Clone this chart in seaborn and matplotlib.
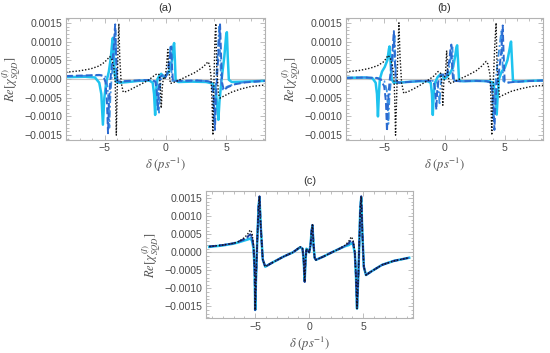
import matplotlib
matplotlib.use("Agg")
import matplotlib.pyplot as plt
from matplotlib.ticker import MultipleLocator, FuncFormatter
import seaborn as sns
import pandas as pd

# ---------------- data: panel (a) ----------------
a_x_dot = [-8.17, -7.02, -6.15, -5.44, -5.0, -4.74, -4.59, -4.43, -4.26, -4.14, -4.08, -4.04, -3.97, -3.9, -3.83,
           -3.76, -3.64, -3.47, -3.16, -2.63, -2.02, -1.4, -0.97, -0.7, -0.53, -0.44, -0.35, -0.26, -0.16, -0.04,
           0.07, 0.19, 0.28, 0.4, 0.61, 1.05, 1.76, 2.46, 2.99, 3.34, 3.47, 3.6, 3.73, 3.82, 3.89, 3.97, 4.06, 4.13,
           4.21, 4.35, 4.48, 4.83, 5.44, 6.15, 7.02, 8.17]
a_y_dot = [0.00018, 0.00022, 0.00027, 0.00035, 0.00045, 0.00054, 0.0006, 0.00055, 0.00035, 0.0, -0.0007, -0.0015,
           -0.0004, 0.0008, 0.00148, 0.0006, -0.0001, -0.00035, -0.00033, -0.00024, -0.00014, -0.00003, 0.00008,
           0.00014, 0.00012, -0.0001, -0.00078, -0.0002, 0.00005, 0.00002, 0.0003, 0.00079, 0.0002, -0.00012,
           -0.0001, -0.00004, 0.00007, 0.00018, 0.0003, 0.0004, 0.00046, 0.0004, 0.0001, -0.0006, -0.0015, -0.0002,
           0.0011, 0.00148, 0.0003, -0.0004, -0.00051, -0.00045, -0.00035, -0.00027, -0.0002, -0.00016]
a_x_b1 = [-8.17, -6.15, -5.44, -5.09, -4.92, -4.81, -4.72, -4.64, -4.52, -4.39, -4.26, -4.17, -4.13, -4.06, -3.97,
          -3.78, -3.07, -1.76, -1.05, -0.83, -0.72, -0.63, -0.54, -0.44, -0.26, -0.09, 0.09, 0.26, 0.4, 0.48, 0.54,
          0.61, 1.32, 2.63, 3.51, 3.82, 3.95, 4.06, 4.14, 4.26, 4.37, 4.48, 4.57, 4.65, 4.79, 5.09, 5.71, 6.59, 8.17]
a_y_b1 = [0.00008, 0.0001, 0.00011, 0.00008, -0.0001, -0.0006, -0.00145, -0.0006, 0.0, 0.0004, 0.0008, 0.0013,
          0.00146, 0.0006, -0.00005, -0.00007, -0.00005, -0.00003, -0.00003, -0.00008, -0.0003, -0.00082, -0.0002,
          0.00005, 0.0001, 0.00003, 0.0001, 0.0003, 0.0007, 0.00087, 0.0003, -0.00005, -0.00005, -0.00004,
          -0.00006, -0.0001, -0.0004, -0.00136, -0.0005, 0.0002, 0.0008, 0.00146, 0.0006, -0.0001, -0.0003,
          -0.00022, -0.00014, -0.00009, -0.00005]
a_x_b2 = [-8.17, -6.15, -5.27, -4.92, -4.76, -4.68, -4.61, -4.53, -4.41, -4.28, -4.17, -4.11, -4.07, -4.0, -3.91,
          -3.69, -2.63, -1.32, -0.79, -0.63, -0.53, -0.44, -0.33, -0.18, 0.0, 0.18, 0.33, 0.42, 0.48, 0.54, 1.32,
          2.63, 3.51, 3.78, 3.91, 4.0, 4.08, 4.2, 4.32, 4.41, 4.48, 4.57, 4.7, 5.09, 5.71, 6.59, 8.17]
a_y_b2 = [0.00007, 0.00009, 0.0001, 0.00006, -0.0002, -0.0006, -0.0013, -0.0005, 0.0001, 0.0005, 0.001, 0.0013,
          0.0009, 0.0001, -0.00006, -0.00007, -0.00005, -0.00003, -0.00006, -0.0002, -0.0009, -0.0002, 0.00006,
          0.0001, 0.00004, 0.0002, 0.0006, 0.0009, 0.0003, -0.00005, -0.00005, -0.00004, -0.00006, -0.0001,
          -0.0004, -0.0012, -0.0005, 0.0002, 0.0009, 0.0014, 0.0007, -0.0001, -0.00028, -0.0002, -0.00013,
          -0.00008, -0.00005]
a_x_c = [-8.17, -6.59, -5.79, -5.44, -5.27, -5.14, -5.02, -4.87, -4.65, -4.48, -4.37, -4.32, -4.26, -4.17, -4.04,
         -3.78, -3.07, -2.2, -1.32, -1.05, -0.94, -0.85, -0.77, -0.66, -0.48, -0.35, -0.22, -0.09, 0.09, 0.31, 0.53,
         0.66, 0.71, 0.77, 0.83, 1.05, 2.2, 3.34, 3.86, 4.13, 4.26, 4.34, 4.43, 4.61, 4.83, 4.99, 5.04, 5.11, 5.2,
         5.44, 6.59, 8.17]
a_y_c = [0.00005, 0.00006, 0.00004, -0.0001, -0.0004, -0.00122, -0.0005, -0.0001, 0.0002, 0.0006, 0.001, 0.0011,
         0.0008, 0.0001, -0.00008, -0.0001, -0.00008, -0.00005, -0.00004, -0.0001, -0.0004, -0.00096, -0.0003,
         0.0, 0.0001, 0.00014, 0.00008, 0.00004, 0.00012, 0.0002, 0.0005, 0.0009, 0.00096, 0.0005, -0.00003,
         -0.00008, -0.00007, -0.00008, -0.00012, -0.0003, -0.0008, -0.00109, -0.0006, 0.0, 0.0006, 0.0012,
         0.00125, 0.0006, -0.00002, -0.00008, -0.00007, -0.00005]

# ---------------- data: panel (b) ----------------
b_x_dot = [-8.17, -7.02, -6.15, -5.53, -5.09, -4.83, -4.7, -4.52, -4.35, -4.2, -4.13, -4.06, -3.97, -3.86, -3.78,
           -3.69, -3.56, -3.38, -2.9, -2.2, -1.49, -0.88, -0.53, -0.31, -0.22, -0.14, -0.06, 0.0, 0.09, 0.18, 0.26,
           0.4, 0.61, 1.14, 1.93, 2.63, 3.07, 3.45, 3.6, 3.78, 3.85, 3.92, 4.02, 4.17, 4.28, 4.36, 4.56, 4.92,
           5.53, 6.32, 7.2, 8.17]
b_y_dot = [0.00019, 0.00023, 0.00029, 0.00036, 0.00045, 0.00055, 0.00063, 0.00058, 0.0004, 0.0001, -0.0005,
           -0.0015, -0.0005, 0.0008, 0.0015, 0.0006, -0.0001, -0.00038, -0.00032, -0.0002, -0.00006, 0.00008,
           0.0002, 0.00015, -0.0001, -0.0007, -0.0001, 0.00003, 0.0002, 0.00076, 0.0002, -0.00012, -0.0001,
           -0.00002, 0.0001, 0.00022, 0.00034, 0.00047, 0.0004, 0.0001, -0.0005, -0.0015, -0.0003, 0.0009, 0.0015,
           0.0003, -0.00048, -0.00042, -0.00033, -0.00026, -0.0002, -0.00017]
b_x_b1 = [-8.17, -6.59, -5.62, -5.27, -5.0, -4.86, -4.77, -4.68, -4.57, -4.43, -4.32, -4.24, -4.2, -4.13, -4.04,
          -3.78, -3.07, -1.93, -1.14, -0.88, -0.77, -0.68, -0.6, -0.48, -0.31, -0.13, 0.04, 0.22, 0.4, 0.51, 0.57,
          0.63, 0.72, 1.32, 2.63, 3.51, 3.86, 4.04, 4.14, 4.23, 4.35, 4.52, 4.7, 4.79, 4.83, 4.9, 4.99, 5.18, 5.71,
          6.59, 8.17]
b_y_b1 = [0.00003, 0.00004, 0.00003, -0.00002, -0.0002, -0.0006, -0.0014, -0.0006, -0.0001, 0.0003, 0.0007,
          0.0011, 0.00128, 0.0006, -0.00005, -0.0001, -0.00008, -0.00005, -0.00005, -0.0001, -0.0003, -0.00082,
          -0.0003, 0.0, 0.0001, 0.00012, 0.00005, 0.00015, 0.0005, 0.00085, 0.00092, 0.0003, -0.00005, -0.00006,
          -0.00005, -0.00006, -0.0001, -0.0005, -0.00136, -0.0006, -0.0001, 0.0002, 0.0007, 0.0012, 0.00143,
          0.0007, -0.00005, -0.0001, -0.00008, -0.00006, -0.00004]
b_x_b2 = [-8.17, -6.59, -5.44, -5.0, -4.79, -4.71, -4.65, -4.57, -4.43, -4.3, -4.2, -4.14, -4.09, -4.02, -3.78,
          -3.07, -1.93, -0.88, -0.61, -0.49, -0.41, -0.33, -0.22, -0.09, 0.09, 0.26, 0.44, 0.6, 0.66, 0.72, 0.81,
          1.4, 2.63, 3.51, 3.82, 3.95, 4.04, 4.13, 4.26, 4.43, 4.61, 4.72, 4.79, 4.87, 5.09, 5.71, 6.59, 8.17]
b_y_b2 = [0.00003, 0.00004, 0.00002, -0.00005, -0.0003, -0.0007, -0.0012, -0.0005, 0.0, 0.0005, 0.001, 0.0012,
          0.0007, -0.00005, -0.0001, -0.00008, -0.00005, -0.00005, -0.0001, -0.0003, -0.00069, -0.0002, 0.00008,
          0.00012, 0.00006, 0.00015, 0.0004, 0.0008, 0.00085, 0.0003, -0.00005, -0.00006, -0.00005, -0.00006,
          -0.0001, -0.0004, -0.0011, -0.0005, 0.0, 0.0005, 0.001, 0.0013, 0.0006, -0.00005, -0.0001, -0.00008,
          -0.00006, -0.00004]
b_x_c = [-8.17, -6.59, -5.97, -5.71, -5.6, -5.52, -5.44, -5.36, -5.18, -4.96, -4.74, -4.61, -4.56, -4.5, -4.39,
         -4.21, -3.51, -2.2, -1.4, -1.14, -1.04, -0.97, -0.9, -0.79, -0.57, -0.35, -0.18, 0.0, 0.18, 0.44, 0.7,
         0.88, 0.99, 1.05, 1.12, 1.21, 1.58, 2.63, 3.69, 4.04, 4.21, 4.33, 4.42, 4.52, 4.74, 5.0, 5.22, 5.4, 5.48,
         5.52, 5.58, 5.68, 6.15, 7.02, 8.17]
b_y_c = [0.00003, 0.00004, 0.00002, -0.0001, -0.0004, -0.001, -0.0004, 0.0, 0.0002, 0.00032, 0.0005, 0.0008,
         0.00087, 0.0006, 0.0, -0.0001, -0.00009, -0.00006, -0.00006, -0.0001, -0.0004, -0.00096, -0.0004,
         -0.0001, 0.00005, 0.00012, 0.0001, 0.0, 0.00005, 0.00015, 0.0003, 0.0006, 0.00085, 0.0009, 0.0005,
         -0.00005, -0.00006, -0.00005, -0.00006, -0.0001, -0.0004, -0.00095, -0.0004, 0.0, 0.0002, 0.0003,
         0.0005, 0.0008, 0.00095, 0.001, 0.0006, -0.00005, -0.00007, -0.00005, -0.00004]

# ---------------- data: panel (c) ----------------
c_x = [-9.25, -8.0, -7.0, -6.5, -6.08, -5.75, -5.46, -5.3, -5.15, -5.05, -5.0, -4.93, -4.8, -4.68, -4.6, -4.5,
       -4.3, -4.07, -3.5, -2.38, -1.5, -0.83, -0.62, -0.52, -0.42, -0.34, -0.26, -0.14, 0.0, 0.12, 0.22, 0.3, 0.4,
       0.5, 0.62, 1.3, 2.1, 2.8, 3.33, 3.65, 3.89, 4.05, 4.22, 4.33, 4.42, 4.55, 4.72, 4.81, 4.92, 5.05, 5.25,
       5.8, 6.73, 7.8, 9.25]
c_y_dot = [0.00016, 0.0002, 0.00025, 0.0003, 0.00039, 0.00048, 0.00062, 0.00055, 0.0002, -0.0005, -0.0016,
           -0.0008, 0.0004, 0.0013, 0.00155, 0.0008, -0.0002, -0.0004, -0.0003, -0.00012, 0.0, 0.00015, 0.0001,
           -0.0002, -0.00082, -0.0002, 0.0001, 0.00005, 0.0, 0.0002, 0.0006, 0.00076, 0.0002, -0.00015, -0.00021,
           -0.00012, 0.0, 0.0001, 0.0002, 0.0003, 0.00043, 0.00035, 0.0, -0.0007, -0.00156, -0.0006, 0.0012,
           0.00155, 0.0005, -0.0004, -0.00063, -0.00052, -0.00035, -0.00024, -0.00015]
c_y_b1 = [0.00016, 0.0002, 0.00025, 0.0003, 0.00036, 0.00042, 0.0005, 0.00045, 0.00015, -0.0005, -0.0016,
          -0.0008, 0.0004, 0.0013, 0.00155, 0.0008, -0.0002, -0.0004, -0.0003, -0.00012, 0.0, 0.00015, 0.0001,
          -0.0002, -0.00082, -0.0002, 0.0001, 0.00005, 0.0, 0.0002, 0.0006, 0.00076, 0.0002, -0.00015, -0.00021,
          -0.00012, 0.0, 0.0001, 0.00018, 0.00025, 0.00035, 0.0003, 0.0, -0.0007, -0.00156, -0.0006, 0.0012,
          0.00155, 0.0005, -0.0004, -0.00063, -0.00052, -0.00035, -0.00024, -0.00015]
c_y_b2 = [0.00016, 0.0002, 0.00025, 0.0003, 0.00034, 0.0004, 0.00045, 0.0004, 0.00012, -0.0005, -0.0016,
          -0.0008, 0.0004, 0.0013, 0.00155, 0.0008, -0.0002, -0.0004, -0.0003, -0.00012, 0.0, 0.00015, 0.0001,
          -0.0002, -0.00082, -0.0002, 0.0001, 0.00005, 0.0, 0.0002, 0.0006, 0.00076, 0.0002, -0.00015, -0.00021,
          -0.00012, 0.0, 0.0001, 0.00018, 0.00023, 0.0003, 0.00027, 0.0, -0.0007, -0.00156, -0.0006, 0.0012,
          0.00155, 0.0005, -0.0004, -0.00063, -0.00052, -0.00035, -0.00024, -0.00015]
c_y_c = [0.00015, 0.00019, 0.00024, 0.00028, 0.00032, 0.00035, 0.00038, 0.00033, 0.0001, -0.0005, -0.0016,
         -0.0008, 0.0004, 0.0013, 0.00152, 0.0008, -0.0002, -0.0004, -0.0003, -0.00012, 0.0, 0.00014, 0.0001,
         -0.0002, -0.0008, -0.0002, 0.0001, 0.00005, 0.0, 0.0002, 0.0006, 0.00074, 0.0002, -0.00015, -0.00021,
         -0.00012, 0.0, 0.0001, 0.00017, 0.0002, 0.00025, 0.00022, -0.00002, -0.0007, -0.00156, -0.0006, 0.0012,
         0.00152, 0.0005, -0.0004, -0.00063, -0.00052, -0.00035, -0.00024, -0.00015]

panel_titles = ["(a)", "(b)", "(c)"]
x_ticks = [-5, 0, 5]
y_ticks = [-0.0015, -0.0010, -0.0005, 0.0, 0.0005, 0.0010, 0.0015]

# ---------------- style ----------------
plt.rcParams["mathtext.fontset"] = "stix"
plt.rcParams["font.family"] = ["Liberation Sans", "DejaVu Sans"]

FRAME = "#b3b3b3"
TXT = "#555555"
CYAN = "#1ec3ef"
BLUE1 = "#2b6ad0"
BLUE2 = "#3d93e6"
NAVY = "#1d3d98"

fig = plt.figure(figsize=(5.5, 3.53), dpi=100)

ax_a = fig.add_axes([66 / 550, 1 - 140 / 353, 199 / 550, 122 / 353])
ax_b = fig.add_axes([346 / 550, 1 - 140 / 353, 197 / 550, 122 / 353])
ax_c = fig.add_axes([206 / 550, 1 - 318.3 / 353, 207 / 550, 127.3 / 353])


def ytick_fmt(v, pos):
    s = f"{v:.4f}"
    if s.startswith("-"):
        if abs(v) < 1e-9:
            s = "0.0000"
        else:
            s = "\u2212" + s[1:]
    return s


def draw(ax, curves, xlim, ylim, title):
    ax.axhline(0, color="#c8c8c8", lw=0.8, zorder=0)
    for xs, ys, color, ls, lw in curves:
        df = pd.DataFrame({"x": xs, "y": ys})
        sns.lineplot(data=df, x="x", y="y", ax=ax, color=color, linestyle=ls, lw=lw,
                     estimator=None, sort=False)
    ax.set_xlim(*xlim)
    ax.set_ylim(*ylim)
    ax.set_xticks(x_ticks)
    ax.set_yticks(y_ticks)
    ax.xaxis.set_minor_locator(MultipleLocator(1))
    ax.yaxis.set_minor_locator(MultipleLocator(0.0001))
    ax.yaxis.set_major_formatter(FuncFormatter(ytick_fmt))
    ax.tick_params(which="both", direction="in", top=True, right=True, color=FRAME,
                   labelcolor="#4a4a4a", labelsize=7.6, width=0.6)
    ax.tick_params(which="major", length=3.5, pad=2.5)
    ax.tick_params(which="minor", length=1.8)
    for sp in ax.spines.values():
        sp.set_color(FRAME)
        sp.set_linewidth(0.8)
    ax.set_xlabel(r"$\delta\ (ps^{-1})$", fontsize=9, color=TXT, labelpad=2)
    ax.set_ylabel(r"$Re[\chi^{(I)}_{SQD}]$", fontsize=9, color=TXT, labelpad=1)
    ax.set_title(title, fontsize=8, color="#333333", pad=5)


DOT = (0, (1, 1.3))
DASH = (0, (3.5, 1.6))
DASHDOT = (0, (4, 1.5, 1, 1.5))

draw(ax_a, [
    (a_x_c, a_y_c, CYAN, "-", 1.8),
    (a_x_b2, a_y_b2, BLUE2, DASHDOT, 1.3),
    (a_x_b1, a_y_b1, BLUE1, DASH, 1.4),
    (a_x_dot, a_y_dot, "#111111", DOT, 1.0),
], (-8.17, 8.17), (-0.00163, 0.00163), panel_titles[0])

draw(ax_b, [
    (b_x_c, b_y_c, CYAN, "-", 1.8),
    (b_x_b2, b_y_b2, BLUE2, DASHDOT, 1.3),
    (b_x_b1, b_y_b1, BLUE1, DASH, 1.4),
    (b_x_dot, b_y_dot, "#111111", DOT, 1.0),
], (-8.17, 8.17), (-0.00163, 0.00163), panel_titles[1])

draw(ax_c, [
    (c_x, c_y_c, CYAN, "-", 1.8),
    (c_x, c_y_b2, BLUE1, DASHDOT, 1.3),
    (c_x, c_y_b1, NAVY, DASH, 1.4),
    (c_x, c_y_dot, "#111111", DOT, 1.0),
], (-9.55, 9.6), (-0.00183, 0.0017), panel_titles[2])

fig.savefig("out.png", dpi=100)
